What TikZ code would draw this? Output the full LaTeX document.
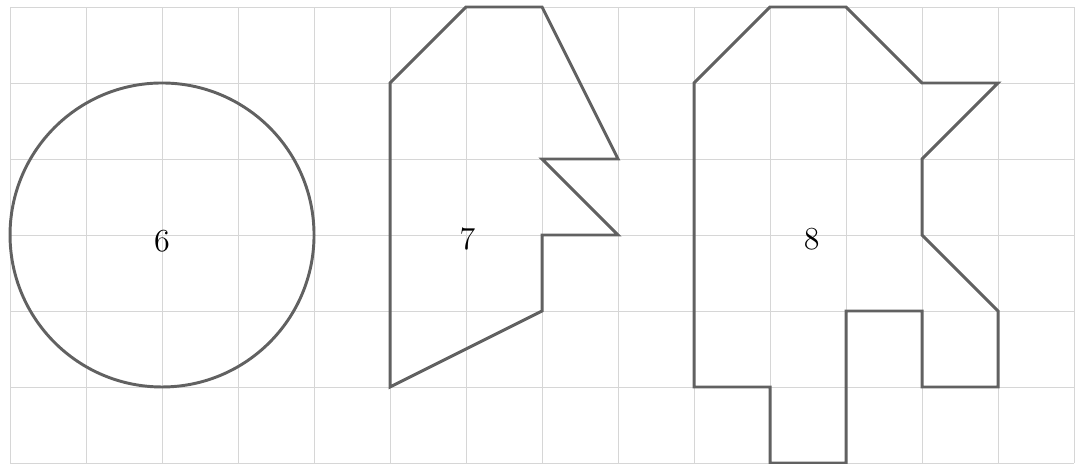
\documentclass[tikz,border=0pt]{standalone}
\usepackage{amsmath, amssymb}
\usepackage{tikz}
\usetikzlibrary{calc}

\begin{document}
\begin{tikzpicture}
			\tikzset{hinh/.style={draw=black!62,line width=1.1pt,line join=miter},
				luoi/.style={draw=black!16,line width=0.35pt},
				so/.style={font=\large}}
			\useasboundingbox (-0.132,-0.01) rectangle (14.026,6.092);
			\draw[luoi] (0,0) grid (14,6);
			% hinh 6
			\coordinate (O6) at (2,3);
			\draw[hinh] (O6) circle (2);
			\node[so] (n6) at (2,2.92) {$6$};
			% hinh 7
			\draw[hinh] (5,5) -- (6,6) -- (7,6) -- (8,4) -- (7,4) -- (8,3) -- (7,3)
				-- (7,2) -- (5,1) -- cycle;
			\node[so] (n7) at (6.02,2.94) {$7$};
			% hinh 8
			\draw[hinh] (9,5) -- (10,6) -- (11,6) -- (12,5) -- (13,5) -- (12,4) -- (12,3)
				-- (13,2) -- (13,1) -- (12,1) -- (12,2) -- (11,2) -- (11,0) -- (10,0)
				-- (10,1) -- (9,1) -- cycle;
			\node[so] (n8) at (10.55,2.94) {$8$};
		\end{tikzpicture}
\end{document}
